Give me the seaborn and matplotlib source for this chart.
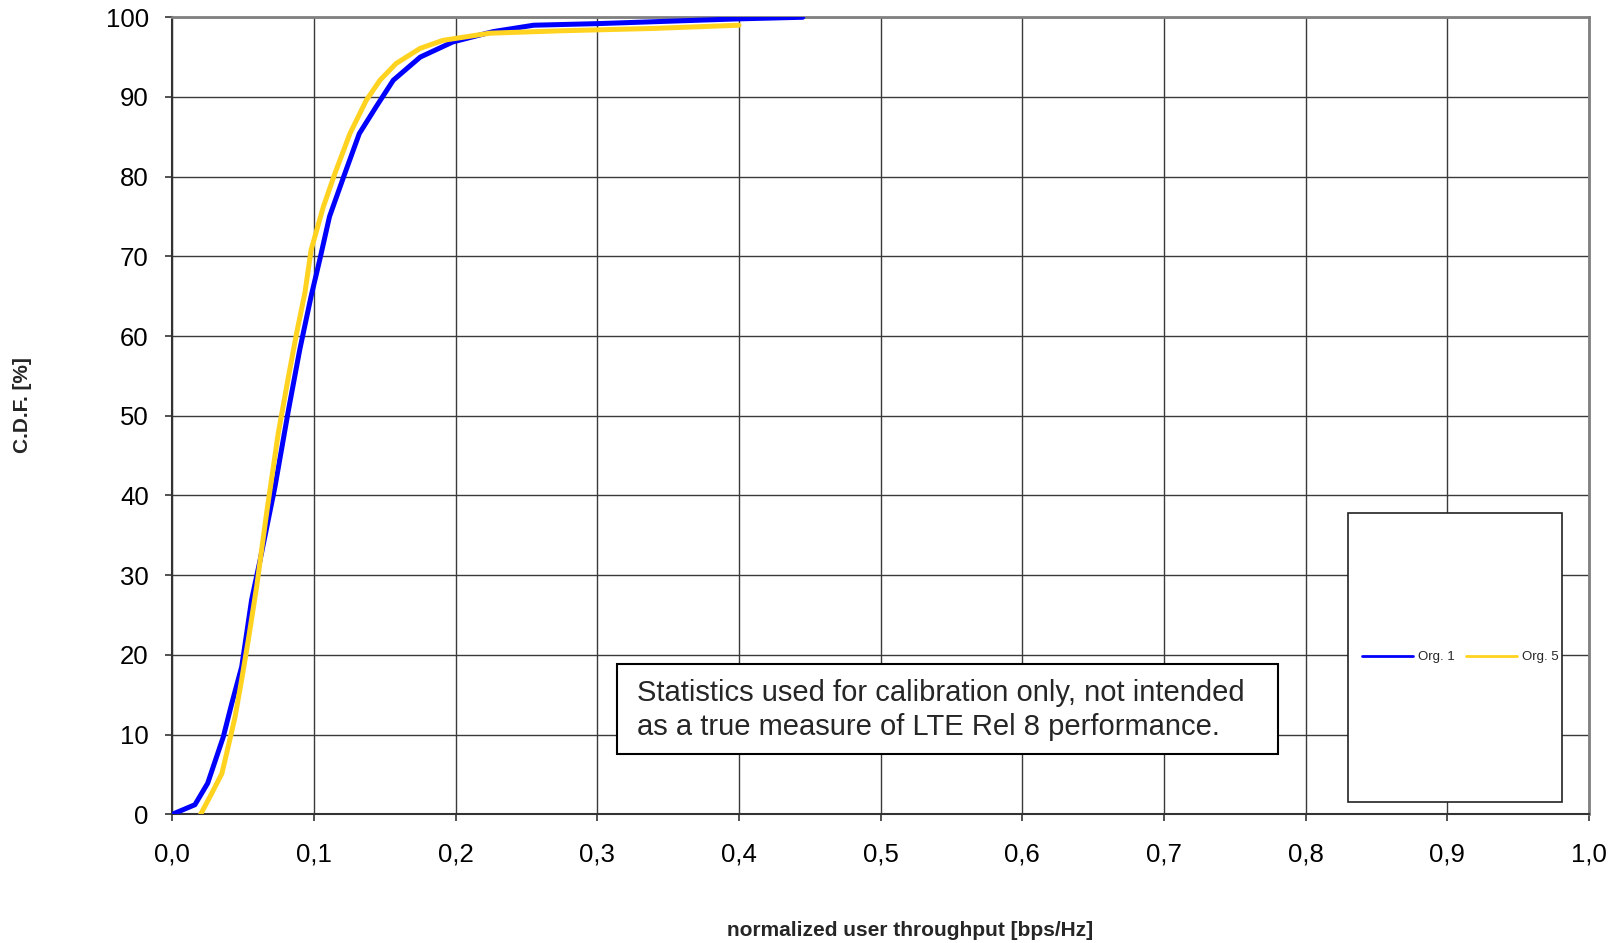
import matplotlib
matplotlib.use("Agg")
import matplotlib.pyplot as plt
from matplotlib.ticker import FuncFormatter, MultipleLocator
from matplotlib.patches import Rectangle
import seaborn as sns
import pandas as pd

# CDF of normalized user throughput, per organisation
org1_x = [0.000, 0.016, 0.025, 0.036, 0.042, 0.049, 0.056, 0.062, 0.0725, 0.082,
          0.090, 0.098, 0.104, 0.111, 0.121, 0.132, 0.144, 0.156, 0.175, 0.198,
          0.2265, 0.255, 0.300, 0.350, 0.400, 0.445]
org1_y = [0.0, 1.2, 3.9, 9.7, 13.9, 18.5, 26.9, 31.9, 41.1, 50.7,
          58.3, 65.0, 69.5, 75.0, 80.0, 85.4, 88.8, 92.1, 95.0, 96.9,
          98.2, 99.0, 99.2, 99.5, 99.8, 100.0]

org5_x = [0.020, 0.0266, 0.035, 0.0395, 0.0443, 0.049, 0.0537, 0.0596, 0.0666, 0.0748,
          0.082, 0.0878, 0.0937, 0.098, 0.1066, 0.1148, 0.1254, 0.137, 0.1466, 0.158,
          0.175, 0.191, 0.224, 0.274, 0.340, 0.400]
org5_y = [0.0, 2.2, 5.1, 8.5, 12.2, 16.9, 21.9, 28.6, 37.8, 47.8,
          54.9, 60.4, 65.5, 70.8, 76.2, 80.4, 85.4, 89.6, 92.1, 94.2,
          96.1, 97.1, 98.0, 98.3, 98.6, 99.0]

series_names = ["Org. 1", "Org. 5"]
series_colors = ["#0000FF", "#FFD320"]

x_label = "normalized user throughput [bps/Hz]"
y_label = "C.D.F. [%]"
note = ("Statistics used for calibration only, not intended\n"
        "as a true measure of LTE Rel 8 performance.")

df = pd.concat([
    pd.DataFrame({"x": org1_x, "y": org1_y, "org": series_names[0]}),
    pd.DataFrame({"x": org5_x, "y": org5_y, "org": series_names[1]}),
], ignore_index=True)

sns.set_style("white")
plt.rcParams["font.family"] = ["Liberation Sans", "DejaVu Sans"]

fig = plt.figure(figsize=(16.19, 9.43), dpi=100)
ax = fig.add_axes([0.1064, 0.1365, 0.8751, 0.8452])

sns.lineplot(data=df, x="x", y="y", hue="org", palette=series_colors,
             hue_order=series_names, sort=False, estimator=None,
             linewidth=3.6, ax=ax, legend=False, zorder=3)

ax.set_xlim(0, 1.0)
ax.set_ylim(0, 100)
ax.xaxis.set_major_locator(MultipleLocator(0.1))
ax.yaxis.set_major_locator(MultipleLocator(10))
ax.xaxis.set_major_formatter(FuncFormatter(lambda v, p: f"{v:.1f}".replace(".", ",")))
ax.yaxis.set_major_formatter(FuncFormatter(lambda v, p: f"{v:.0f}"))
ax.grid(True, color="#3a3a3a", linewidth=1.0, zorder=0)
ax.set_axisbelow(True)

for side in ["top", "right"]:
    ax.spines[side].set_color("#808080")
    ax.spines[side].set_linewidth(2.0)
for side in ["left", "bottom"]:
    ax.spines[side].set_color("#333333")
    ax.spines[side].set_linewidth(1.5)

ax.tick_params(axis="both", which="major", direction="out", length=5,
               width=1.2, color="#333333", labelsize=18.5, labelcolor="black",
               bottom=True, left=True)
ax.tick_params(axis="x", pad=15)
ax.tick_params(axis="y", pad=12)

ax.set_xlabel("")
ax.set_ylabel("")
fig.text(0.562, 0.0135, x_label, ha="center", va="center",
         fontsize=15, fontweight="bold")
fig.text(0.0142, 0.5705, y_label, ha="center", va="center", rotation=90,
         fontsize=15, fontweight="bold")

# legend box
ax.add_patch(Rectangle((0.830, 0.0154), 0.151, 0.3626, transform=ax.transAxes,
                       facecolor="white", edgecolor="#222222", linewidth=1.2,
                       zorder=5))
handles = [plt.Line2D([], [], color=c, linewidth=2.0) for c in series_colors]
ax.legend(handles, series_names, loc="center", bbox_to_anchor=(0.9092, 0.197),
          bbox_transform=ax.transAxes, ncol=2, frameon=False, fontsize=9.5,
          handlelength=3.8, handletextpad=0.4, columnspacing=0.9).set_zorder(6)

# note box
ax.add_patch(Rectangle(((617 - 172.3) / 1417, (814.3 - 754) / 797),
                       (1278 - 617) / 1417, (754 - 664) / 797,
                       transform=ax.transAxes, facecolor="white",
                       edgecolor="black", linewidth=1.5, zorder=5))
ax.text((637 - 172.3) / 1417, (814.3 - 710) / 797, note, transform=ax.transAxes,
        ha="left", va="center", fontsize=21, linespacing=1.27, zorder=6)

fig.savefig("out.png", dpi=100, facecolor="white")
